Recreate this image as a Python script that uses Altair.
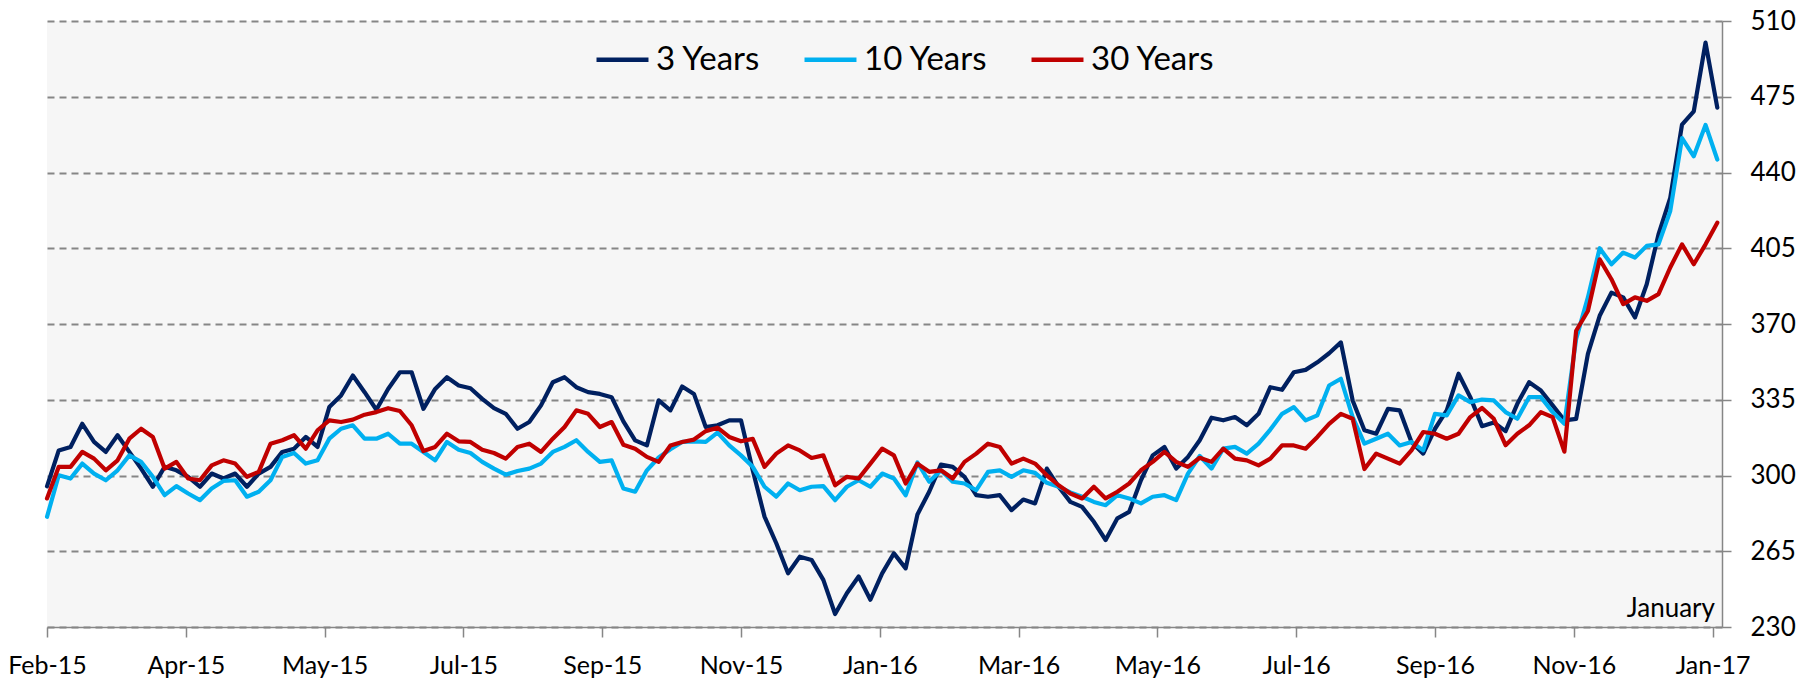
import altair as alt
import pandas as pd

# ---------------- data ----------------
START = "2015-02-02"          # first observation
STEP_DAYS = 5                 # spacing of the sampled observations
SERIES = ["3 Years", "10 Years", "30 Years"]
COLORS = ["#002060", "#00B0F0", "#C00000"]

Y3 = [
    295.0, 311.6, 313.2, 323.9, 315.5, 310.9, 318.6, 310.9, 303.2, 294.8,
    304.0, 302.4, 299.4, 294.8, 300.9, 298.6, 300.9, 294.8, 300.9, 304.0,
    310.9, 312.4, 317.8, 313.2, 331.6, 337.0, 346.2, 338.5, 330.4, 340.0,
    347.7, 347.7, 330.8, 340.0, 345.4, 341.6, 340.3, 335.4, 331.1, 328.5,
    321.6, 324.7, 332.4, 343.1, 345.4, 340.8, 338.5, 337.7, 336.2, 325.0,
    316.2, 313.9, 334.7, 330.1, 341.1, 337.7, 322.4, 323.2, 325.5, 325.5,
    302.4, 281.0, 268.7, 254.8, 262.5, 261.0, 251.8, 236.0, 245.6, 253.3,
    242.6, 254.8, 264.0, 257.1, 282.0, 292.5, 305.0, 304.0, 299.4, 290.9,
    290.2, 290.9, 284.0, 288.9, 287.1, 303.2, 294.8, 287.8, 285.5, 278.6,
    270.2, 280.2, 283.2, 297.8, 309.3, 313.2, 303.2, 308.6, 316.3, 326.7,
    325.5, 327.0, 323.2, 328.5, 340.8, 339.6, 347.7, 348.8, 352.3, 356.5,
    361.5, 334.7, 320.9, 319.3, 330.8, 330.1, 315.5, 310.1, 321.6, 330.1,
    347.0, 336.2, 322.8, 324.5, 320.5, 333.1, 343.1, 339.3, 332.4, 325.5,
    326.2, 356.2, 373.8, 384.5, 382.3, 373.0, 388.4, 411.4, 428.3, 462.1,
    468.2, 500.0, 470.0,
]

Y10 = [
    280.9, 300.1, 298.6, 305.5, 300.9, 297.8, 302.4, 309.3, 306.3, 299.4,
    290.9, 295.1, 291.7, 288.6, 294.0, 297.5, 297.8, 290.2, 292.5, 297.8,
    308.6, 310.4, 305.5, 307.0, 317.0, 321.6, 323.2, 317.0, 317.0, 319.3,
    314.7, 314.7, 310.9, 307.0, 315.5, 311.9, 310.4, 306.3, 303.2, 300.4,
    302.1, 303.2, 305.5, 310.9, 313.2, 316.3, 310.9, 306.3, 307.0, 294.0,
    292.5, 302.4, 308.3, 312.1, 315.5, 315.8, 315.5, 319.8, 313.9, 309.3,
    304.0, 294.8, 290.2, 296.3, 293.2, 294.8, 295.1, 288.6, 294.8, 297.8,
    294.8, 300.9, 298.6, 290.9, 306.0, 297.1, 302.4, 297.1, 296.3, 293.2,
    301.7, 302.4, 299.4, 302.4, 301.2, 296.6, 294.8, 292.2, 290.2, 287.8,
    286.3, 290.9, 289.4, 287.1, 290.2, 290.9, 288.6, 300.9, 309.0, 303.2,
    312.4, 313.2, 310.1, 314.7, 321.2, 328.5, 331.6, 325.5, 327.8, 341.6,
    344.7, 327.0, 314.7, 317.0, 319.3, 313.9, 315.5, 311.6, 328.5, 327.8,
    337.0, 333.9, 335.1, 334.7, 329.3, 326.2, 336.2, 336.2, 329.3, 323.9,
    363.1, 382.3, 405.0, 397.6, 403.0, 400.7, 406.1, 406.8, 422.2, 455.9,
    447.5, 462.0, 446.0,
]

Y30 = [
    289.4, 304.0, 304.0, 310.9, 307.8, 302.4, 307.0, 317.0, 321.6, 317.8,
    303.2, 306.3, 298.6, 297.8, 304.7, 307.0, 305.5, 299.4, 301.7, 314.7,
    316.3, 318.6, 312.4, 320.9, 325.5, 324.7, 325.8, 328.1, 329.3, 331.1,
    329.8, 323.2, 311.3, 313.2, 319.3, 315.8, 315.5, 311.9, 310.4, 307.8,
    313.2, 314.7, 310.9, 317.0, 322.4, 330.1, 328.5, 322.4, 324.7, 314.2,
    312.4, 308.6, 306.3, 313.9, 315.5, 316.6, 320.5, 322.1, 317.8, 315.8,
    316.9, 304.0, 310.1, 313.9, 311.6, 308.1, 309.3, 295.5, 299.4, 298.6,
    305.5, 312.4, 309.3, 296.3, 305.5, 301.7, 302.4, 298.6, 306.3, 310.1,
    314.7, 313.2, 305.5, 307.8, 305.5, 300.1, 295.5, 291.7, 289.4, 294.8,
    289.4, 292.5, 296.3, 302.4, 306.3, 310.9, 306.3, 304.0, 308.2, 306.3,
    312.4, 307.8, 307.0, 304.7, 307.8, 313.9, 313.9, 312.4, 317.8, 323.9,
    328.5, 326.2, 303.0, 310.1, 307.8, 305.5, 311.6, 320.1, 319.3, 317.0,
    319.3, 327.0, 331.2, 326.2, 314.0, 319.3, 323.2, 329.3, 327.0, 311.0,
    366.9, 376.0, 399.9, 390.7, 379.2, 382.3, 380.7, 383.8, 396.1, 406.8,
    397.6, 406.8, 416.8,
]

Y_TICKS = [230, 265, 300, 335, 370, 405, 440, 475, 510]
X_TICK_DATES = [
    "2015-02-02", "2015-04-02", "2015-05-31", "2015-07-29", "2015-09-26",
    "2015-11-24", "2016-01-22", "2016-03-21", "2016-05-19", "2016-07-17",
    "2016-09-14", "2016-11-12", "2017-01-10",
]
X_DOMAIN = ["2015-02-02", "2017-01-14"]
NOTE = "January"


def ms(d):
    return int(pd.Timestamp(d, tz="UTC").value // 10**6)


dates = pd.date_range(START, periods=len(Y3), freq=f"{STEP_DAYS}D", tz="UTC")
date_ms = [int(t.value // 10**6) for t in dates]

rows = []
for name, vals in zip(SERIES, [Y3, Y10, Y30]):
    for d, v in zip(date_ms, vals):
        rows.append({"date": d, "value": v, "series": name})
df = pd.DataFrame(rows)

FONT = "Lato"
GRID_GREY = "#868686"

x_scale = alt.Scale(type="utc", domain=[ms(X_DOMAIN[0]), ms(X_DOMAIN[1])])
y_scale = alt.Scale(domain=[230, 510], nice=False, zero=False)

x_axis = alt.Axis(
    values=[ms(d) for d in X_TICK_DATES],
    labelExpr="utcFormat(datum.value, '%b-%y')",
    title=None,
    grid=False,
    domainColor=GRID_GREY,
    domainWidth=1.5,
    tickColor=GRID_GREY,
    tickWidth=1.5,
    tickSize=10,
    labelFont=FONT,
    labelFontSize=25,
    labelColor="#000000",
    labelPadding=16,
    labelFlush=False,
    labelOverlap=False,
)
y_axis = alt.Axis(
    orient="right",
    values=Y_TICKS,
    title=None,
    grid=True,
    gridColor=GRID_GREY,
    gridDash=[7, 5],
    gridWidth=1.8,
    domainColor=GRID_GREY,
    domainWidth=1.5,
    tickColor=GRID_GREY,
    tickWidth=1.5,
    tickSize=9,
    labelFont=FONT,
    labelFontSize=26,
    labelColor="#000000",
    labelPadding=19,
)

lines = alt.Chart(df).mark_line(
    strokeWidth=4.2, strokeJoin="round", strokeCap="round"
).encode(
    x=alt.X("date:T", scale=x_scale, axis=x_axis),
    y=alt.Y("value:Q", scale=y_scale, axis=y_axis),
    color=alt.Color(
        "series:N",
        scale=alt.Scale(domain=SERIES, range=COLORS),
        sort=SERIES,
        legend=alt.Legend(
            orient="none",
            legendX=547,
            legendY=10,
            direction="horizontal",
            title=None,
            symbolType="stroke",
            symbolSize=2700,
            symbolStrokeWidth=4.5,
            labelFont=FONT,
            labelFontSize=33,
            labelColor="#000000",
            labelOffset=5,
            columnPadding=34,
            padding=0,
        ),
    ),
    order=alt.Order("date:T"),
)

note_df = pd.DataFrame({"date": [ms(X_DOMAIN[1])], "value": [Y_TICKS[0]], "label": [NOTE]})
note = alt.Chart(note_df).mark_text(
    align="right", baseline="alphabetic", dx=-7, dy=-10,
    font=FONT, fontSize=26, color="#000000",
).encode(
    x=alt.X("date:T", scale=x_scale, axis=x_axis),
    y=alt.Y("value:Q", scale=y_scale, axis=y_axis),
    text="label:N",
)

chart = (
    alt.layer(lines, note)
    .properties(
        width=1675,
        height=606,
        autosize=alt.AutoSizeParams(type="none"),
        padding={"left": 39, "top": 13, "right": 78, "bottom": 51},
        background="#FFFFFF",
    )
    .configure_view(fill="#F6F6F6", stroke=None)
)

chart.save("out.html", embed_options={"renderer": "svg", "actions": False})
